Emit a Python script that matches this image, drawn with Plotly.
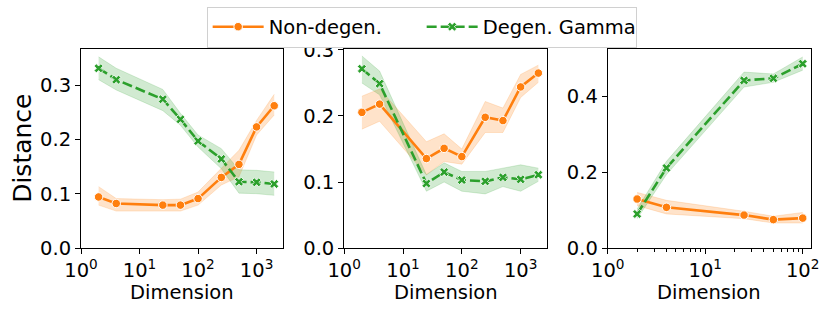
import plotly.graph_objects as go

# ---------------- data ----------------
dims_a = [2, 4, 25, 50, 100, 250, 500, 1000, 2000]
dims_c = [2, 4, 25, 50, 100]

# panel 1
p1_non = [0.094, 0.082, 0.079, 0.079, 0.091, 0.130, 0.154, 0.223, 0.262]
p1_non_lo = [0.079, 0.068, 0.068, 0.068, 0.079, 0.116, 0.131, 0.208, 0.245]
p1_non_hi = [0.113, 0.091, 0.089, 0.090, 0.103, 0.146, 0.180, 0.235, 0.283]
p1_deg = [0.331, 0.310, 0.274, 0.237, 0.197, 0.164, 0.122, 0.121, 0.118]
p1_deg_lo = [0.310, 0.291, 0.253, 0.226, 0.186, 0.146, 0.101, 0.100, 0.097]
p1_deg_hi = [0.352, 0.331, 0.292, 0.248, 0.208, 0.183, 0.144, 0.143, 0.140]

# panel 2
p2_non = [0.2055, 0.218, 0.1355, 0.151, 0.1385, 0.198, 0.193, 0.244, 0.265]
p2_non_lo = [0.180, 0.192, 0.111, 0.131, 0.127, 0.175, 0.175, 0.228, 0.251]
p2_non_hi = [0.230, 0.241, 0.161, 0.173, 0.150, 0.222, 0.212, 0.263, 0.277]
p2_deg = [0.2715, 0.249, 0.0977, 0.115, 0.103, 0.101, 0.107, 0.104, 0.111]
p2_deg_lo = [0.250, 0.232, 0.086, 0.100, 0.086, 0.082, 0.093, 0.086, 0.101]
p2_deg_hi = [0.291, 0.268, 0.111, 0.129, 0.116, 0.116, 0.121, 0.126, 0.121]

# panel 3
p3_non = [0.1295, 0.1075, 0.087, 0.075, 0.079]
p3_non_lo = [0.112, 0.090, 0.0775, 0.066, 0.066]
p3_non_hi = [0.147, 0.126, 0.097, 0.084, 0.094]
p3_deg = [0.090, 0.2115, 0.443, 0.4485, 0.487]
p3_deg_lo = [0.0775, 0.194, 0.4255, 0.438, 0.470]
p3_deg_hi = [0.103, 0.229, 0.465, 0.460, 0.505]

series_names = ["Non-degen.", "Degen. Gamma"]
x_tickvals = [1, 10, 100, 1000]
x_ticktext = ["10<sup>0</sup>", "10<sup>1</sup>", "10<sup>2</sup>", "10<sup>3</sup>"]
y_ticks_a = [0.0, 0.1, 0.2, 0.3]
y_ticks_c = [0.0, 0.2, 0.4]
x_title = "Dimension"
y_title = "Distance"

# ---------------- style ----------------
ORANGE = "#ff7f0e"
GREEN = "#2ca02c"
ORANGE_F = "rgba(255,127,14,0.22)"
GREEN_F = "rgba(44,160,44,0.22)"
FONT = "DejaVu Sans"

fig = go.Figure()

panels = [
    (dims_a, p1_non, p1_non_lo, p1_non_hi, p1_deg, p1_deg_lo, p1_deg_hi, "x", "y"),
    (dims_a, p2_non, p2_non_lo, p2_non_hi, p2_deg, p2_deg_lo, p2_deg_hi, "x2", "y2"),
    (dims_c, p3_non, p3_non_lo, p3_non_hi, p3_deg, p3_deg_lo, p3_deg_hi, "x3", "y3"),
]

for i, (xs, non, nlo, nhi, deg, dlo, dhi, xa, ya) in enumerate(panels):
    for lo, hi, fc in [(nlo, nhi, ORANGE_F), (dlo, dhi, GREEN_F)]:
        fig.add_trace(go.Scatter(x=xs, y=hi, mode="lines", line=dict(width=0.8, color=fc),
                                 showlegend=False, hoverinfo="skip", xaxis=xa, yaxis=ya))
        fig.add_trace(go.Scatter(x=xs, y=lo, mode="lines", line=dict(width=0.8, color=fc),
                                 fill="tonexty", fillcolor=fc,
                                 showlegend=False, hoverinfo="skip", xaxis=xa, yaxis=ya))
    fig.add_trace(go.Scatter(
        x=xs, y=non, mode="lines+markers", name=series_names[0],
        line=dict(color=ORANGE, width=2.6),
        marker=dict(symbol="circle", size=8.5, color=ORANGE, line=dict(color="white", width=1)),
        showlegend=(i == 0), xaxis=xa, yaxis=ya))
    fig.add_trace(go.Scatter(
        x=xs, y=deg, mode="lines+markers", name=series_names[1],
        line=dict(color=GREEN, width=2.6, dash="10px,4px"),
        marker=dict(symbol="x", size=8, color=GREEN, line=dict(color="white", width=0.8)),
        showlegend=(i == 0), xaxis=xa, yaxis=ya))

L, R, T, B = 80.7, 19, 49, 63
W, H = 830, 311
pw = W - L - R
ph = H - T - B

def dom(a, b):
    return [(a - L) / pw, (b - L) / pw]

minor_vals = [m * 10 ** e for e in range(0, 4) for m in range(2, 10)]

axis_common = dict(showline=True, linecolor="black", linewidth=1, mirror=True,
                   ticks="outside", ticklen=5, tickwidth=1, tickcolor="black",
                   showgrid=False, zeroline=False, automargin=False,
                   tickfont=dict(family=FONT, size=19.5, color="black"))

xdoms = [dom(80.7, 282.7), dom(344, 547), dom(607.7, 811)]
xranges = [[0, 3.45], [0, 3.45], [0, 2.085]]
yranges = [[0, 0.3665], [0, 0.3015], [0, 0.526]]
yticks = [y_ticks_a, y_ticks_a, y_ticks_c]

for i in range(3):
    sfx = "" if i == 0 else str(i + 1)
    xa = dict(axis_common, type="log", domain=xdoms[i], range=xranges[i],
              tickmode="array", tickvals=x_tickvals, ticktext=x_ticktext,
              anchor="y" + sfx)
    if i == 2:
        xa["minor"] = dict(tickmode="array", tickvals=minor_vals, ticks="outside",
                           ticklen=3, tickcolor="black", tickwidth=0.8)
    ya = dict(axis_common, range=yranges[i], tickmode="array", tickvals=yticks[i],
              ticktext=[f"{v:.1f}" for v in yticks[i]], anchor="x" + sfx, domain=[0, 1])
    fig.layout["xaxis" + sfx] = xa
    fig.layout["yaxis" + sfx] = ya
    fig.add_annotation(text=x_title, xref="paper", yref="paper",
                       x=sum(xdoms[i]) / 2, y=-(292 - 248) / ph,
                       xanchor="center", yanchor="middle", showarrow=False,
                       font=dict(family=FONT, size=19.5, color="black"))

fig.add_annotation(text=y_title, xref="paper", yref="paper",
                   x=-(L - 22) / pw, y=0.5, textangle=-90,
                   xanchor="center", yanchor="middle", showarrow=False,
                   font=dict(family=FONT, size=25, color="black"))

fig.update_layout(
    width=W, height=H,
    margin=dict(l=L, r=R, t=T, b=B, autoexpand=False),
    paper_bgcolor="white", plot_bgcolor="white",
    font=dict(family=FONT, size=19.5, color="black"),
    legend=dict(orientation="h", x=(421.5 - L) / pw, xanchor="center", y=1 + (T - 6.5) / ph,
                yanchor="top", traceorder="normal",
                bgcolor="white", bordercolor="#d0d0d0", borderwidth=1,
                font=dict(family=FONT, size=19.5, color="black"),
                itemwidth=51, entrywidth=148, entrywidthmode="pixels"),
    showlegend=True,
)

fig.write_html("out.html", config={"displayModeBar": False},
               post_script="document.body.style.margin='0';document.body.style.overflow='hidden';")
